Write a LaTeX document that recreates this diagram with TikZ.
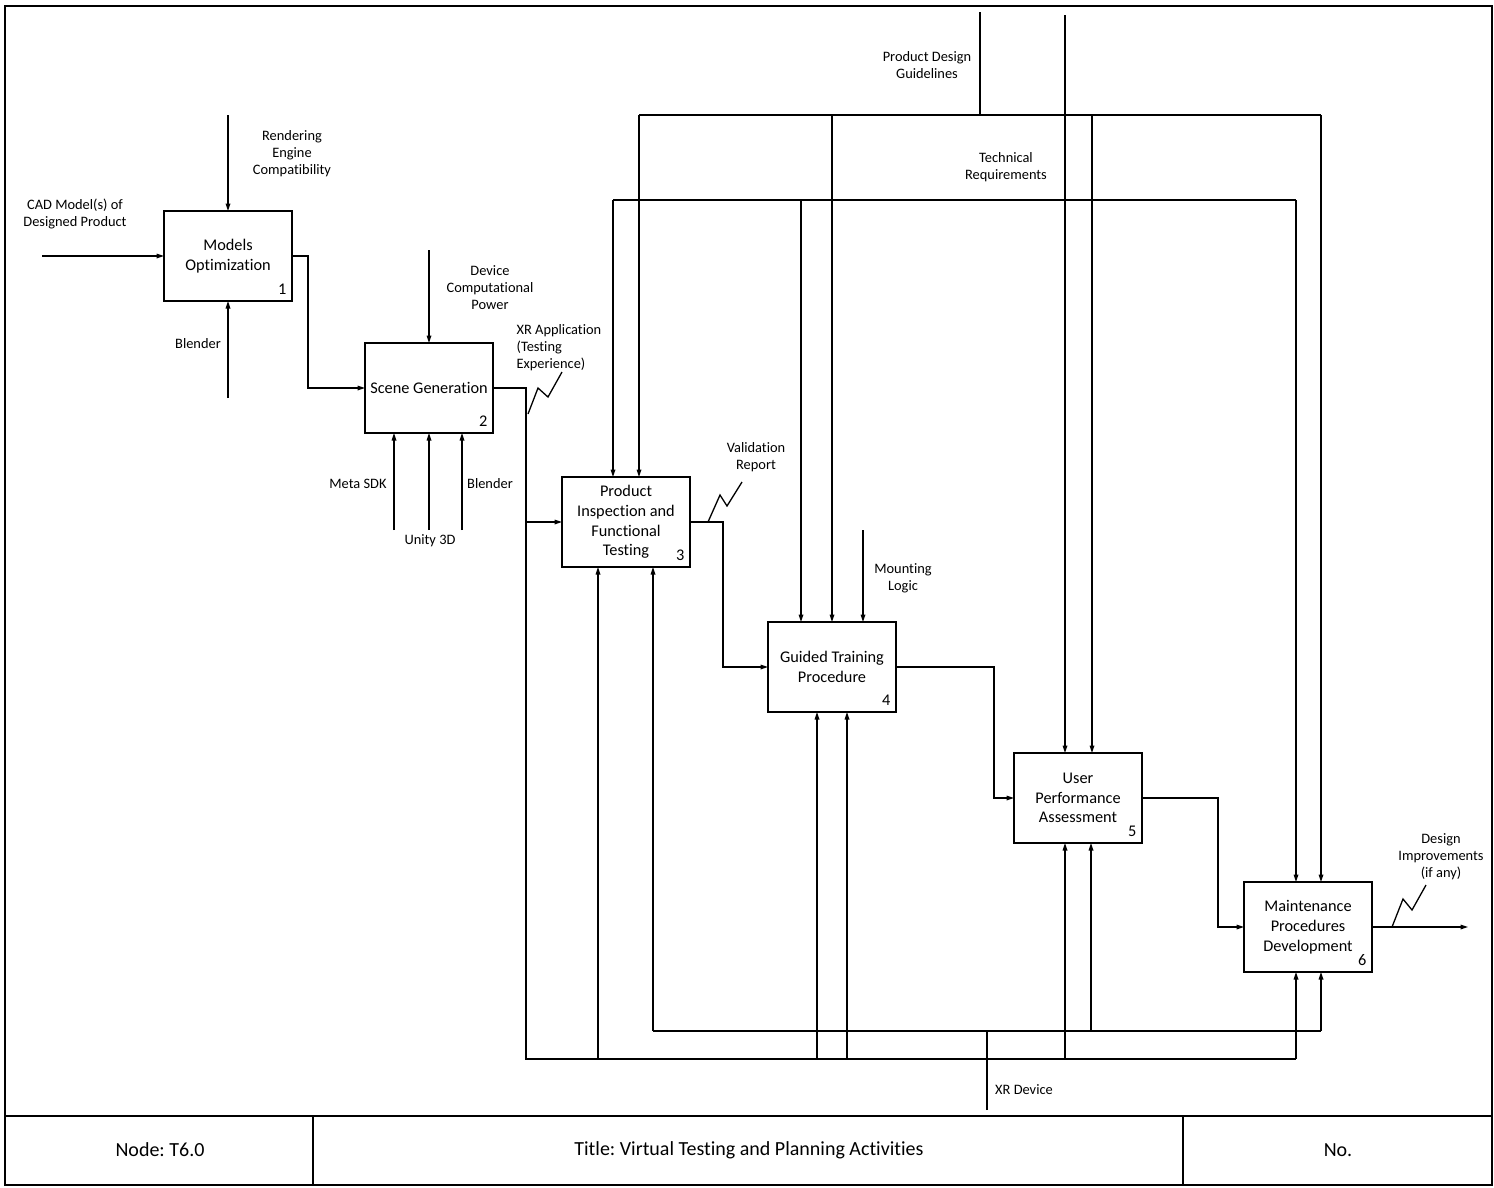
\documentclass[tikz,border=0pt]{standalone}
\usepackage{fontspec}
\setmainfont{Carlito}[Ligatures=NoCommon]
\frenchspacing
\usetikzlibrary{arrows.meta,calc}
\begin{document}
\begin{tikzpicture}[x=1pt,y=-1pt,
  every path/.style={line width=1.3pt},
  arr/.style={-{Triangle[length=7.5pt,width=4.6pt]}},
  act/.style={draw,rectangle,minimum width=128pt,minimum height=90pt,inner sep=2pt,outer sep=0pt,align=center,
    font=\fontsize{16.3}{19.8}\selectfont},
  num/.style={anchor=base east,inner sep=0pt,font=\fontsize{16.3}{19.8}\selectfont},
  lbl/.style={inner sep=0pt,align=center,font=\fontsize{14.4}{17}\selectfont},
  ttl/.style={inner sep=0pt,font=\fontsize{20}{24}\selectfont}]
\useasboundingbox (0,0) rectangle (1494,1187);
% frame and title block
\draw (5,6) rectangle (1492,1185);
\draw (5,1116) -- (1492,1116);
\draw (313,1116) -- (313,1185);
\draw (1183,1116) -- (1183,1185);
\node[ttl] (tnode) at (160,1150) {Node: T6.0};
\node[ttl] (ttitle) at (749,1150) {Title: Virtual Testing and Planning Activities};
\node[ttl] (tno) at (1338,1150) {No.};
% activity boxes
\node[act] (b1) at (228,256) {Models\\Optimization};
\node[act] (b2) at (429,388) {Scene Generation};
\node[act] (b3) at (626,522) {Product\\Inspection and\\Functional\\Testing};
\node[act] (b4) at (832,667) {Guided Training\\Procedure};
\node[act] (b5) at (1078,798) {User\\Performance\\Assessment};
\node[act] (b6) at (1308,927) {Maintenance\\Procedures\\Development};
\foreach \b/\n in {b1/1,b2/2,b3/3,b4/4,b5/5,b6/6}
  \node[num] (\b n) at ($(\b.south east)+(-5,-7)$) {\n};
% labels
\node[lbl] (lcad) at (75,214) {CAD Model(s) of\\Designed Product};
\node[lbl] (lren) at (292,154) {Rendering\\Engine\\Compatibility};
\node[lbl] (lbl1) at (198,344) {Blender};
\node[lbl] (ldev) at (490,288) {Device\\Computational\\Power};
\node[lbl,anchor=west,align=left] (lxra) at (516,348) {XR Application\\(Testing\\Experience)};
\node[lbl] (lmeta) at (358,484) {Meta SDK};
\node[lbl] (luni) at (430,541) {Unity 3D};
\node[lbl] (lbl2) at (490,484) {Blender};
\node[lbl] (lval) at (756,457) {Validation\\Report};
\node[lbl] (lmnt) at (903,578) {Mounting\\Logic};
\node[lbl] (lpdg) at (927,65) {Product Design\\Guidelines};
\node[lbl] (ltec) at (1006,167) {Technical\\Requirements};
\node[lbl] (ldes) at (1441,857) {Design\\Improvements\\(if any)};
\node[lbl] (lxrd) at (1024,1090) {XR Device};
% coordinates
\coordinate (cadS) at (42,256);
\coordinate (renS) at (228,115);
\coordinate (bl1S) at (228,398);
\coordinate (devS) at (429,250);
\coordinate (metaS) at (394,530);
\coordinate (uniS) at (429,530);
\coordinate (bl2S) at (462,530);
\coordinate (mntS) at (863,530);
\coordinate (outE) at (1468,927);
\coordinate (pdgS) at (980,12);
\coordinate (pdgJ) at (980,115);
\coordinate (p3) at (639,115);
\coordinate (p4) at (832,115);
\coordinate (p5) at (1092,115);
\coordinate (p6) at (1321,115);
\coordinate (trS) at (1065,15);
\coordinate (t3) at (613,200);
\coordinate (t4) at (801,200);
\coordinate (t6) at (1296,200);
\coordinate (xrS) at (987,1110);
\coordinate (xrJ) at (987,1031);
\coordinate (u3) at (653,1031);
\coordinate (u5) at (1091,1031);
\coordinate (u6) at (1321,1031);
\coordinate (x2) at (526,1059);
\coordinate (v3) at (598,1059);
\coordinate (v4a) at (817,1059);
\coordinate (v4b) at (847,1059);
\coordinate (v5) at (1065,1059);
\coordinate (v6) at (1296,1059);
% box 1 and 2 connectors
\draw[arr] (cadS) -- (b1.west);
\draw[arr] (renS) -- (b1.north);
\draw[arr] (bl1S) -- (b1.south);
\draw[arr] (b1.east) -- ++(16,0) |- (b2.west);
\draw[arr] (devS) -- (b2.north);
\draw[arr] (metaS) -- (metaS |- b2.south);
\draw[arr] (uniS) -- (uniS |- b2.south);
\draw[arr] (bl2S) -- (bl2S |- b2.south);
% box 2 output (XR Application)
\draw (b2.east) -| (x2) -- (v6);
\draw[arr] (b3.west -| x2) -- (b3.west);
\draw (528,414) -- (538,388) -- (548,397) -- (562,372);
% box 3 output
\draw[arr] (b3.east) -- ++(33,0) |- (b4.west);
\draw (708,522) -- (720,495) -- (727,506) -- (742,482);
% box 4, 5, 6 outputs
\draw[arr] (b4.east) -- ++(98,0) |- (b5.west);
\draw[arr] (b5.east) -- ++(76,0) |- (b6.west);
\draw[arr] (b6.east) -- (outE);
\draw (1392,927) -- (1403,899) -- (1412,910) -- (1426,885);
\draw[arr] (mntS) -- (mntS |- b4.north);
% top: product design guidelines
\draw (pdgS) -- (pdgJ);
\draw (p3) -- (p6);
\draw[arr] (p3) -- (p3 |- b3.north);
\draw[arr] (p4) -- (p4 |- b4.north);
\draw[arr] (p5) -- (p5 |- b5.north);
\draw[arr] (p6) -- (p6 |- b6.north);
% top: technical requirements
\draw[arr] (trS) -- (trS |- b5.north);
\draw (t3) -- (t6);
\draw[arr] (t3) -- (t3 |- b3.north);
\draw[arr] (t4) -- (t4 |- b4.north);
\draw[arr] (t6) -- (t6 |- b6.north);
% bottom: XR device
\draw (xrS) -- (xrJ);
\draw (u3) -- (u6);
\draw[arr] (u3) -- (u3 |- b3.south);
\draw[arr] (u5) -- (u5 |- b5.south);
\draw[arr] (u6) -- (u6 |- b6.south);
\draw[arr] (v3) -- (v3 |- b3.south);
\draw[arr] (v4a) -- (v4a |- b4.south);
\draw[arr] (v4b) -- (v4b |- b4.south);
\draw[arr] (v5) -- (v5 |- b5.south);
\draw[arr] (v6) -- (v6 |- b6.south);
\end{tikzpicture}
\end{document}
